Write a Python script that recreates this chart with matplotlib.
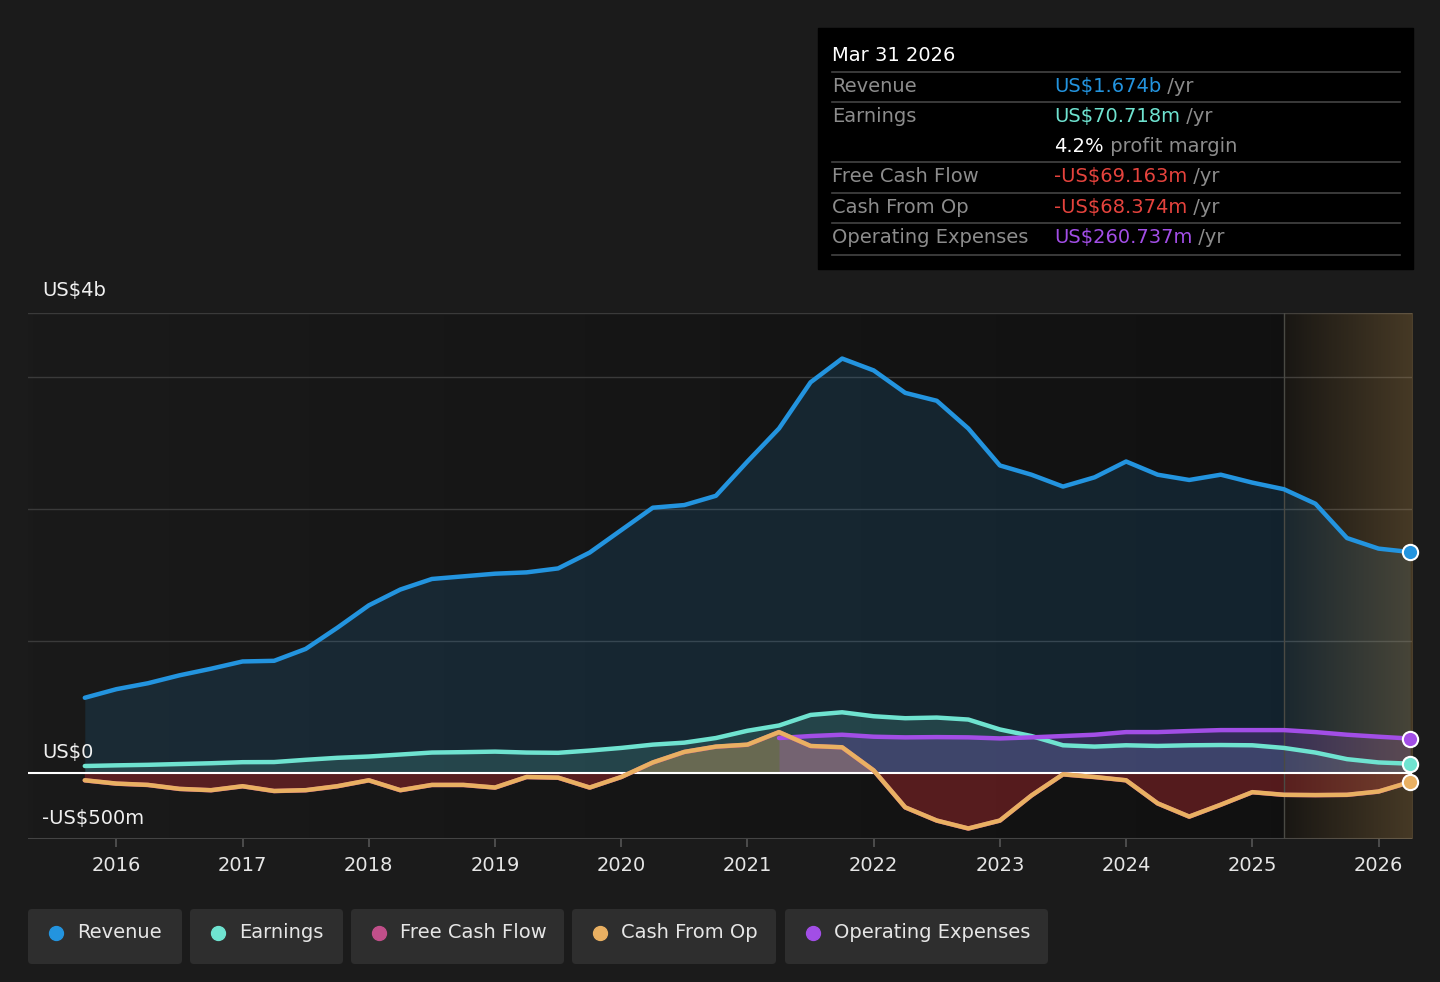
import numpy as np
import matplotlib
matplotlib.use("Agg")
import matplotlib.pyplot as plt
from matplotlib.patches import FancyBboxPatch, Rectangle

plt.rcParams['font.family'] = ['DejaVu Sans']

# quarterly dates, Sep 2015 .. Mar 2026
quarters = [2015.75 + 0.25 * i for i in range(43)]

# values in US$ billions
revenue = [0.57, 0.635, 0.68, 0.74, 0.79, 0.845, 0.85, 0.94, 1.10, 1.27,
           1.39, 1.47, 1.49, 1.51, 1.52, 1.55, 1.67, 1.84, 2.01, 2.03,
           2.10, 2.36, 2.61, 2.96, 3.14, 3.05, 2.88, 2.82, 2.61, 2.33,
           2.26, 2.17, 2.24, 2.36, 2.26, 2.22, 2.26, 2.20, 2.15, 2.04,
           1.78, 1.70, 1.674]
earnings = [0.053, 0.058, 0.062, 0.068, 0.074, 0.082, 0.083, 0.10, 0.115, 0.125,
            0.14, 0.155, 0.158, 0.162, 0.155, 0.153, 0.17, 0.19, 0.215, 0.23,
            0.265, 0.32, 0.36, 0.44, 0.46, 0.43, 0.415, 0.42, 0.405, 0.33,
            0.28, 0.21, 0.20, 0.21, 0.205, 0.21, 0.212, 0.21, 0.19, 0.155,
            0.105, 0.08, 0.0707]
cash_from_op = [-0.055, -0.08, -0.09, -0.12, -0.13, -0.10, -0.136, -0.13, -0.10, -0.055,
                -0.13, -0.09, -0.09, -0.11, -0.03, -0.035, -0.11, -0.03, 0.08, 0.16,
                0.20, 0.215, 0.31, 0.205, 0.195, 0.02, -0.26, -0.36, -0.42, -0.36,
                -0.17, -0.01, -0.03, -0.055, -0.23, -0.33, -0.24, -0.145, -0.165, -0.167,
                -0.165, -0.14, -0.0684]
free_cash_flow = [-0.056, -0.081, -0.091, -0.121, -0.131, -0.101, -0.137, -0.131, -0.101, -0.056,
                  -0.131, -0.091, -0.091, -0.111, -0.031, -0.036, -0.111, -0.031, 0.079, 0.159,
                  0.199, 0.214, 0.309, 0.204, 0.194, 0.019, -0.261, -0.361, -0.421, -0.361,
                  -0.171, -0.011, -0.031, -0.056, -0.231, -0.331, -0.241, -0.146, -0.166, -0.168,
                  -0.166, -0.141, -0.0692]
# operating expenses only reported from Mar 2021
opex_start = 22
opex = [0.265, 0.28, 0.29, 0.275, 0.27, 0.272, 0.27, 0.262, 0.27, 0.28,
        0.29, 0.31, 0.31, 0.318, 0.325, 0.325, 0.325, 0.31, 0.29, 0.275,
        0.261]

year_ticks = list(range(2016, 2027))
forecast_start = 2025.25

BG = '#1b1b1b'
C_REV = '#2394df'
C_EARN = '#6fe3d0'
C_FCF = '#c14f8a'
C_CFO = '#e9b062'
C_OPEX = '#a24ee6'

t = np.array(quarters)
rev = np.array(revenue)
earn = np.array(earnings)
cfo = np.array(cash_from_op)
fcf = np.array(free_cash_flow)
t_op = t[opex_start:]
op = np.array(opex)

fig = plt.figure(figsize=(14.4, 9.82), dpi=100, facecolor=BG)
ax = fig.add_axes([28 / 1440, 1 - 839 / 982, 1384 / 1440, (839 - 313) / 982])
ax.set_facecolor('#141414')
x0, x1 = 2015.30, 2026.265
y0, y1 = -0.5, 3.485
ax.set_xlim(x0, x1)
ax.set_ylim(y0, y1)

# subtle background gradient
grad = np.linspace(0, 1, 256).reshape(1, -1)
ax.imshow(grad, extent=[x0, x1, y0, y1], aspect='auto', zorder=0,
          cmap=matplotlib.colors.LinearSegmentedColormap.from_list('bg', ['#1a1a1a', '#101010']))

for s in ax.spines.values():
    s.set_visible(False)

for g in [1, 2, 3, y1]:
    ax.axhline(g, color='#3a3a3a', lw=1, zorder=1)
ax.axhline(y0, color='#444444', lw=1.5, zorder=1)

# area fills
ax.fill_between(t, rev, 0, color=C_REV, alpha=0.14, lw=0, zorder=2)
ax.fill_between(t, earn, 0, color=C_EARN, alpha=0.16, lw=0, zorder=2)
ax.fill_between(t, cfo, 0, where=cfo >= 0, interpolate=True, color=C_CFO, alpha=0.35, lw=0, zorder=2)
ax.fill_between(t, fcf, 0, where=fcf <= 0, interpolate=True, color='#a8282c', alpha=0.45, lw=0, zorder=2)
ax.fill_between(t_op, op, 0, color=C_OPEX, alpha=0.22, lw=0, zorder=2)

# forecast shading
shade = np.zeros((1, 256, 4))
shade[..., 0] = 0.66
shade[..., 1] = 0.52
shade[..., 2] = 0.30
shade[..., 3] = np.linspace(0.06, 0.36, 256)
ax.imshow(shade, extent=[forecast_start, x1, y0, y1], aspect='auto', zorder=3)
ax.axvline(forecast_start, color='#4a4a44', lw=1, zorder=3)

ax.axhline(0, color='white', lw=1.5, zorder=4)

kw = dict(lw=3.2, solid_capstyle='round', solid_joinstyle='round', zorder=5)
ax.plot(t, rev, color=C_REV, **kw)
ax.plot(t, earn, color=C_EARN, **kw)
ax.plot(t_op, op, color=C_OPEX, **kw)
ax.plot(t, fcf, color=C_FCF, **kw)
ax.plot(t, cfo, color=C_CFO, **kw)

for yy, c in [(rev[-1], C_REV), (earn[-1], C_EARN), (op[-1], C_OPEX), (cfo[-1], C_CFO)]:
    ax.plot([t[-1]], [yy], 'o', ms=11, mfc=c, mec='white', mew=1.5, zorder=6, clip_on=False)

ax.set_xticks(year_ticks)
ax.set_xticklabels([str(y) for y in year_ticks])
ax.set_yticks([])
ax.tick_params(axis='x', colors='#555555', length=6, width=1.2, labelcolor='#e6e6e6',
               labelsize=14, pad=6)

tr = matplotlib.transforms.blended_transform_factory(ax.transAxes, ax.transData)
for txt, yy in [('US$4b', y1 + 0.167), ('US$0', 0.159), ('-US$500m', -0.341)]:
    ax.text(14 / 1384, yy, txt, transform=tr, color='#f0f0f0', fontsize=14,
            va='center', ha='left', zorder=7, clip_on=False)

# overlay in pixel coordinates for tooltip and legend
ov = fig.add_axes([0, 0, 1, 1], facecolor='none')
ov.set_xlim(0, 1440)
ov.set_ylim(982, 0)
ov.axis('off')

ov.add_patch(Rectangle((818, 28), 595, 241, color='black', zorder=1))
ov.text(832, 55, 'Mar 31 2026', color='white', fontsize=14, va='center', zorder=2)
for ly in [72, 102, 162, 193, 223, 255]:
    ov.plot([832, 1400], [ly, ly], color='#444444', lw=1.2, zorder=2)

GRAY = '#8c8c8c'
rows = [
    (86, 'Revenue', 'US$1.674b', C_REV, ' /yr'),
    (116, 'Earnings', 'US$70.718m', C_EARN, ' /yr'),
    (176, 'Free Cash Flow', '-US$69.163m', '#e5433d', ' /yr'),
    (207, 'Cash From Op', '-US$68.374m', '#e5433d', ' /yr'),
    (237, 'Operating Expenses', 'US$260.737m', C_OPEX, ' /yr'),
]
for ry, label, val, c, unit in rows:
    ov.text(832, ry, label, color=GRAY, fontsize=14, va='center', zorder=2)
    tv = ov.text(1054, ry, val, color=c, fontsize=14, va='center', zorder=2)
    ov.annotate(unit, xy=(1, 0.5), xycoords=tv, color=GRAY, fontsize=14,
                va='center', ha='left', zorder=2)
tm = ov.text(1054, 146, '4.2%', color='white', fontsize=14, va='center', zorder=2)
ov.annotate(' profit margin', xy=(1, 0.5), xycoords=tm, color=GRAY, fontsize=14,
            va='center', ha='left', zorder=2)

legend_items = [
    ('Revenue', C_REV, 28, 182),
    ('Earnings', C_EARN, 190, 343),
    ('Free Cash Flow', C_FCF, 351, 564),
    ('Cash From Op', C_CFO, 572, 776),
    ('Operating Expenses', C_OPEX, 785, 1048),
]
for name, c, lx0, lx1 in legend_items:
    ov.add_patch(FancyBboxPatch((lx0 + 4, 913), lx1 - lx0 - 8, 47,
                                boxstyle='round,pad=4,rounding_size=4',
                                fc='#2e2e2e', ec='none', zorder=1))
    ov.plot([lx0 + 28], [933], 'o', ms=10, color=c, zorder=2)
    ov.text(lx0 + 49, 933, name, color='#e6e6e6', fontsize=14, va='center', zorder=2)

fig.savefig('out.png', dpi=100, facecolor=BG)
